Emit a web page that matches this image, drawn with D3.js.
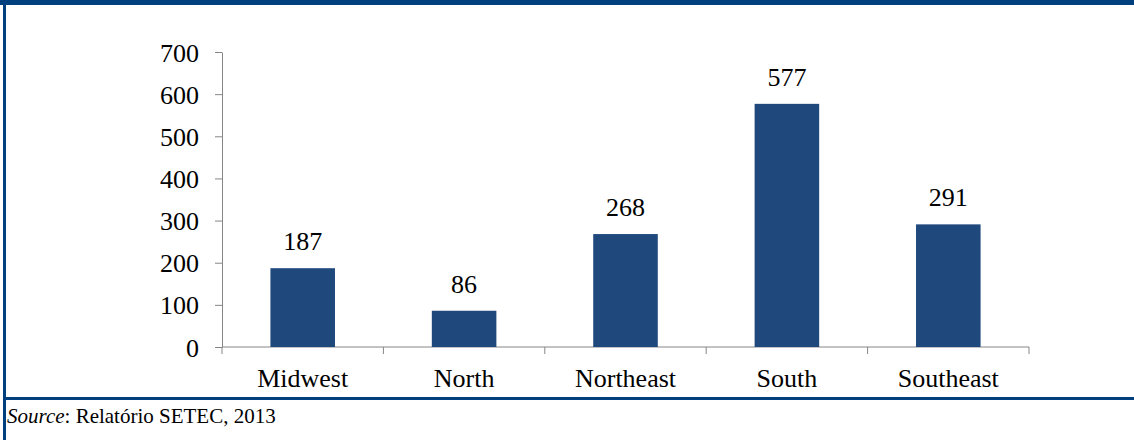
<!DOCTYPE html>
<html>
<head>
<meta charset="utf-8">
<script src="https://cdn.jsdelivr.net/npm/d3@7"></script>
<style>
    body { margin: 0; background: #fff; }
    svg { display: block; font-family: "Liberation Serif", "Times New Roman", serif; }
    .axis path, .axis line { stroke: #868686; }
</style>
</head>
<body>
<div id="chart"></div>
<script>
// data
const categories = ["Midwest", "North", "Northeast", "South", "Southeast"];
const values = [187, 86, 268, 577, 291];
const yTicks = [0, 100, 200, 300, 400, 500, 600, 700];

const width = 1134;
const height = 440;
const margin = {"top": 52, "bottom": 93, "left": 222, "right": 105};
const frameColor = "#00407f";
const barColor = "#1f497d";
const fontSize = 26;

const svg = d3.select("#chart").append("svg")
    .attr("width", width)
    .attr("height", height);

const x = d3.scaleBand()
    .domain(categories)
    .range([margin.left, width - margin.right])
    .paddingInner(0.6)
    .paddingOuter(0.3);

const y = d3.scaleLinear()
    .domain([0, 700])
    .range([height - margin.bottom, margin.top]);

// frame lines
svg.append("rect").attr("x", 0).attr("y", 0).attr("width", width).attr("height", 5).attr("fill", frameColor);
svg.append("rect").attr("x", 3).attr("y", 0).attr("width", 3).attr("height", height).attr("fill", frameColor);
svg.append("rect").attr("x", 3).attr("y", 397).attr("width", width - 3).attr("height", 3).attr("fill", frameColor);

// y axis
const yAxis = svg.append("g")
    .attr("class", "axis")
    .attr("transform", "translate(" + margin.left + ",0)")
    .call(d3.axisLeft(y).tickValues(yTicks).tickSize(7).tickPadding(16).tickSizeOuter(0))
    .attr("font-family", null)
    .attr("font-size", null);
yAxis.selectAll("text")
    .attr("fill", "#000")
    .style("font-size", fontSize + "px")
    .attr("dy", "0.35em");

// x axis: ticks sit on the band boundaries
const xAxis = svg.append("g")
    .attr("class", "axis")
    .attr("transform", "translate(0," + y(0) + ")");
xAxis.append("line")
    .attr("x1", margin.left)
    .attr("x2", width - margin.right)
    .attr("stroke", "#868686");
const bounds = categories.map(c => x(c) - x.step() * x.paddingOuter()).concat([width - margin.right]);
xAxis.selectAll(".xtick")
    .data(bounds)
    .join("line")
    .attr("class", "xtick")
    .attr("x1", d => d).attr("x2", d => d)
    .attr("y1", 0).attr("y2", 7)
    .attr("stroke", "#868686");
xAxis.selectAll(".xlabel")
    .data(categories)
    .join("text")
    .attr("class", "xlabel")
    .attr("x", d => x(d) + x.bandwidth() / 2)
    .attr("y", 40)
    .attr("text-anchor", "middle")
    .style("font-size", fontSize + "px")
    .text(d => d);

// bars
svg.selectAll(".bar")
    .data(values)
    .join("rect")
    .attr("class", "bar")
    .attr("x", (d, i) => x(categories[i]))
    .attr("y", d => y(d))
    .attr("width", x.bandwidth())
    .attr("height", d => y(0) - y(d))
    .attr("fill", barColor);

// value labels
svg.selectAll(".vlabel")
    .data(values)
    .join("text")
    .attr("class", "vlabel")
    .attr("x", (d, i) => x(categories[i]) + x.bandwidth() / 2)
    .attr("y", d => y(d) - 18)
    .attr("text-anchor", "middle")
    .style("font-size", fontSize + "px")
    .text(d => d);

// source note
const note = svg.append("text")
    .attr("x", 7)
    .attr("y", 423)
    .style("font-size", "21px");
note.append("tspan").attr("font-style", "italic").text("Source");
note.append("tspan").text(": Relatório SETEC, 2013");
</script>
</body>
</html>
